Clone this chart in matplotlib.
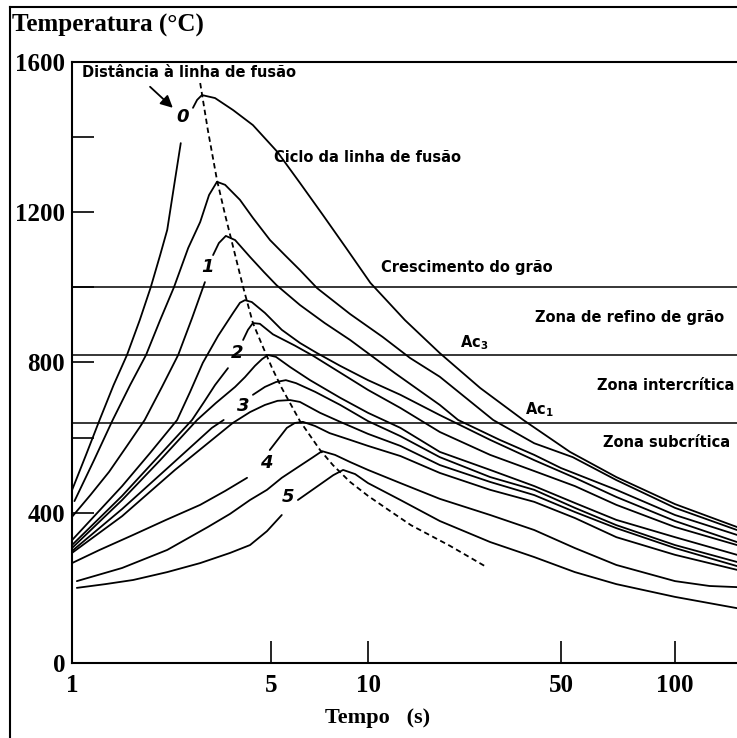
import numpy as np
import matplotlib
matplotlib.use('Agg')
from matplotlib import pyplot as plt
from matplotlib.lines import Line2D

nan = np.nan

# weld thermal cycles: time (s) vs temperature (degC); nan leaves a gap where a number label sits
t_c0 = [1.0, 1.12, 1.25, 1.40, 1.56, 1.73, 1.89, 2.04, 2.16, 2.30, 2.41, nan,
        2.66, 2.75, 2.86, 3.18, 3.68, 4.32, 5.23, 6.15, 7.24, 8.55, 10.2, 13.6, 18.2,
        25.5, 36.5, 52.8, 70, 100, 160]
T_c0 = [460, 554, 647, 740, 820, 913, 1000, 1086, 1153, 1286, 1384, nan,
        1478, 1499, 1512, 1504, 1472, 1432, 1361, 1278, 1193, 1105, 1012, 913, 825,
        732, 647, 562, 495, 423, 362]

t_c1 = [1.02, 1.195, 1.39, 1.6, 1.82, 2.04, 2.28, 2.56, 2.82, 3.03, 3.23, 3.45, 3.89,
        4.32, 4.96, 5.52, 6.15, 6.95, 8.8, 11.3, 14.2, 18.2, 28.4, 40, 53.7, 70, 100, 160]
T_c1 = [431, 540, 647, 740, 820, 913, 1000, 1105, 1174, 1246, 1281, 1273, 1233,
        1185, 1126, 1086, 1046, 998, 929, 868, 812, 762, 647, 585, 548, 487, 413, 354]

t_c2 = [1.0, 1.16, 1.35, 1.56, 1.8, 2.07, 2.36, 2.64, 2.93, nan, 3.13, 3.28, 3.47,
        3.74, 4.22, 4.72, 5.2, 6.15, 7.34, 8.8, 12.5, 18.2, 21.2, 30, 40, 50, 70, 100, 160]
T_c2 = [389, 447, 509, 578, 647, 735, 820, 918, 1014, nan, 1086, 1118, 1137,
        1126, 1081, 1041, 1006, 953, 905, 860, 772, 687, 647, 594, 554, 519, 461, 394, 341]

t_c3 = [1.0, 1.5, 1.88, 2.34, 2.60, 2.88, 3.26, 3.68, 3.89, 4.05, 4.28, 4.76, 5.4,
        6.15, 6.95, 8.2, 10, 13.1, 18.2, 27.7, 40, 54.4, 70, 100, 160]
T_c3 = [327, 471, 559, 647, 722, 799, 871, 932, 959, 966, 961, 932, 887,
        852, 825, 791, 753, 714, 660, 594, 540, 493, 442, 378, 322]

t_c4 = [1.0, 1.5, 1.99, 2.64, 2.91, 3.18, 3.53, nan, 3.99, 4.15, 4.32, 4.57, 5.07,
        5.93, 6.75, 8.2, 10, 13.1, 18.2, 27.7, 40, 54.4, 70, 100, 160]
T_c4 = [314, 445, 546, 647, 695, 740, 785, nan, 860, 887, 905, 903, 875,
        845, 818, 773, 727, 679, 615, 554, 511, 471, 421, 362, 314]

t_c5 = [1.0, 1.5, 2.04, 2.75, 3.2, 3.74, 4.05, 4.39, 4.65, 4.88, 5.18, 5.73, 6.61,
        8.2, 10, 13.1, 18.2, 27.7, 40, 54.4, 70, 100, 160]
T_c5 = [306, 434, 540, 647, 692, 735, 761, 791, 809, 820, 815, 788, 753,
        706, 666, 626, 562, 514, 471, 426, 381, 335, 288]

t_c6 = [1.0, 1.5, 2.21, 3.1, 3.41, nan, 4.32, 4.76, 5.18, 5.56, 5.98, 6.85, 8.2,
        10, 13.1, 18.2, 27.7, 40, 54.4, 70, 100, 160]
T_c6 = [298, 410, 525, 626, 647, nan, 714, 735, 748, 753, 745, 722, 687,
        644, 604, 548, 495, 461, 413, 367, 314, 269]

t_c7 = [1.0, 1.5, 2.3, 3.67, 4.22, 4.76, 5.24, 5.73, 6.15, 7.1, 8.2, 10, 13.1,
        18.2, 27.7, 40, 54.4, 70, 100, 160]
T_c7 = [293, 391, 514, 639, 668, 687, 698, 700, 695, 666, 642, 610, 578,
        527, 482, 447, 402, 359, 306, 258]

t_c8 = [1.0, 1.25, 1.64, 2.14, 2.82, 3.45, 4.12, nan, 4.95, 5.24, 5.6, 5.93, 6.28,
        6.85, 7.6, 8.8, 10, 13.1, 18.2, 27.7, 40, 54.4, 70, 100, 160]
T_c8 = [266, 301, 341, 381, 421, 458, 493, nan, 567, 594, 626, 639, 642,
        631, 612, 594, 578, 551, 506, 461, 429, 386, 335, 288, 248]

t_c9 = [1.04, 1.5, 2.16, 3.0, 3.59, 4.22, 4.84, 5.4, 6.15, 6.7, 7.2, 7.9, 8.8,
        10, 13.1, 18.2, 27.7, 40, 54.4, 70, 100, 130, 160]
T_c9 = [218, 253, 301, 362, 397, 434, 461, 493, 525, 546, 564, 554, 535,
        514, 479, 437, 394, 354, 306, 261, 218, 205, 202]

t_c10 = [1.04, 1.31, 1.64, 2.16, 2.82, 3.59, 4.22, 4.84, 5.4, nan, 6.06, 6.85, 7.8,
         8.37, 9.12, 10, 13.1, 18.2, 27.7, 40, 54.4, 70, 100, 160]
T_c10 = [200, 210, 221, 242, 266, 293, 314, 351, 394, nan, 434, 466, 500,
         514, 503, 479, 434, 378, 322, 282, 242, 210, 176, 146]

# locus of peak temperatures (dashed)
t_peak = [2.82, 3.0, 3.23, 3.45, 3.68, 3.99, 4.32, 4.65, 5.04, 5.4, 6.15, 7.1,
          7.78, 8.8, 10, 12.0, 14.3, 19.8, 26.5]
T_peak = [1544, 1419, 1286, 1193, 1108, 1001, 905, 847, 785, 732, 644, 567,
          527, 482, 445, 405, 367, 312, 258]

# zone boundaries: grain growth, Ac3, Ac1
zone_T = [1000, 820, 640]

# distance labels 0..5 sit on every second cycle
dist_labels = ['0', '1', '2', '3', '4', '5']
dist_t = [2.45, 3.0, 3.8, 3.99, 4.8, 5.64]
dist_T = [1454, 1054, 825, 684, 532, 442]

x_ticks = [1, 5, 10, 50, 100]
y_ticks = [0, 400, 800, 1200, 1600]
y_minor = [600, 1000, 1400]

cycles = [(t_c0, T_c0), (t_c1, T_c1), (t_c2, T_c2), (t_c3, T_c3), (t_c4, T_c4),
          (t_c5, T_c5), (t_c6, T_c6), (t_c7, T_c7), (t_c8, T_c8), (t_c9, T_c9),
          (t_c10, T_c10)]

# time axis: logarithmic, but each decade stretched differently
LOG_ANCH = np.log10([1e-3, 1, 5, 10, 50, 100, 160, 1e5])
PIX_ANCH = np.array([-854, 0, 199, 296, 489, 603, 665, 1515], dtype=float)


def fwd(t):
    t = np.asarray(t, dtype=float)
    return np.interp(np.log10(np.clip(t, 1e-3, 1e5)), LOG_ANCH, PIX_ANCH)


def inv(u):
    return 10 ** np.interp(np.asarray(u, dtype=float), PIX_ANCH, LOG_ANCH)


serif = 'Liberation Serif'
sans = 'DejaVu Sans'

fig = plt.figure(figsize=(7.37, 7.38), dpi=100, facecolor='w')
ax = fig.add_axes([72 / 737, 1 - 663 / 738, (737 - 72) / 737, (663 - 62) / 738])

ax.set_xscale('function', functions=(fwd, inv))
ax.set_xlim(1, 160)
ax.set_ylim(0, 1600)

for t, T in cycles:
    ax.plot(t, T, color='k', lw=1.3, solid_joinstyle='round', solid_capstyle='round')

ax.plot(t_peak, T_peak, color='k', lw=1.3, dashes=(3, 2))

for T in zone_T:
    ax.axhline(T, color='k', lw=1.1)

ax.set_xticks(x_ticks, labels=[str(v) for v in x_ticks])
ax.set_xticks([], minor=True)
ax.set_yticks(y_ticks, labels=[str(v) for v in y_ticks])
ax.set_yticks(y_minor, minor=True)
ax.tick_params(which='both', direction='in', length=16, width=1.2)
ax.tick_params(axis='x', pad=8)
ax.tick_params(axis='y', pad=5)
for lab in ax.get_xticklabels() + ax.get_yticklabels():
    lab.set_fontfamily(serif)
    lab.set_fontweight('bold')
    lab.set_fontsize(18)

for side in ['left', 'bottom', 'top']:
    ax.spines[side].set_linewidth(1.5)
ax.spines['right'].set_visible(False)

# zone and curve annotations
bold = dict(family=sans, fontweight='bold', fontsize=10.5, va='center', ha='left')
ax.text(1.08, 1571, 'Distância à linha de fusão', **bold)
ax.text(5.1, 1345, 'Ciclo da linha de fusão', **bold)
ax.text(11.1, 1052, 'Crescimento do grão', **bold)
ax.text(40.3, 919, 'Zona de refino de grão', **bold)
ax.text(21.5, 852, r'Ac$_{\mathbf{3}}$', **bold)
ax.text(62.3, 740, 'Zona intercrítica', **bold)
ax.text(37, 674, r'Ac$_{\mathbf{1}}$', **bold)
ax.text(64.5, 586, 'Zona subcrítica', **bold)

ax.annotate('', xy=(2.26, 1478), xytext=(1.88, 1534),
            arrowprops=dict(arrowstyle='-|>', color='k', lw=1.3, mutation_scale=18,
                            shrinkA=0, shrinkB=0))

for lab, t, T in zip(dist_labels, dist_t, dist_T):
    ax.text(t, T, lab, family=sans, fontweight='heavy', fontstyle='italic',
            fontsize=13, ha='center', va='center')

fig.text(12 / 737, 1 - 25 / 738, 'Temperatura (°C)', family=serif, fontweight='bold',
         fontsize=18, ha='left', va='center')
fig.text(378 / 737, 1 - 718 / 738, 'Tempo   (s)', family=serif, fontweight='bold',
         fontsize=16, ha='center', va='center')

# outer frame around the whole figure
fig.add_artist(Line2D([10 / 737, 10 / 737], [0, 1 - 7 / 738], transform=fig.transFigure,
                      color='k', lw=1.5))
fig.add_artist(Line2D([10 / 737, 1], [1 - 7 / 738, 1 - 7 / 738], transform=fig.transFigure,
                      color='k', lw=1.5))

fig.savefig('out.png', dpi=100)
